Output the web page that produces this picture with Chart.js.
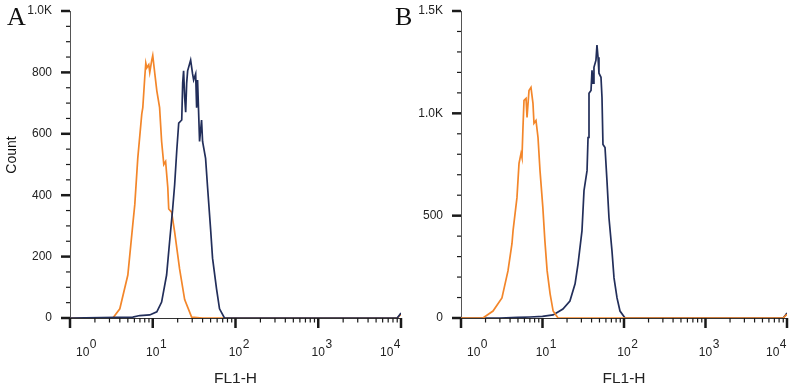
<!DOCTYPE html>
<html>
<head>
<meta charset="utf-8">
<script src="https://cdn.jsdelivr.net/npm/chart.js@4.4.1/dist/chart.umd.min.js"></script>
<style>
html, body { margin: 0; padding: 0; background: #fff; }
#wrap { position: relative; width: 800px; height: 392px; overflow: hidden; }
canvas { position: absolute; top: 0; }
#chartA { left: 0; }
#chartB { left: 390px; }
</style>
</head>
<body>
<div id="wrap">
  <canvas id="chartA" width="410" height="392"></canvas>
  <canvas id="chartB" width="410" height="392"></canvas>
</div>
<script>
// panel A
var orangeAx = [1, 3.3, 4.0, 5.0, 5.74, 6.07, 6.59, 7.37, 7.58, 8.01, 8.24, 8.47, 8.95, 9.2, 9.73, 10.0, 10.6, 11.2, 12.1, 12.8, 13.6, 14.3, 15.2, 15.6, 16.9, 18.4, 21.1, 24.3, 29.5, 40, 9000, 9600, 10000];
var orangeAy = [0, 0, 30, 140, 305, 370, 520, 665, 685, 785, 830, 815, 825, 800, 840, 855, 795, 740, 685, 575, 500, 510, 425, 355, 345, 280, 160, 60, 3, 0, 0, 8, 12];
var navyAx = [1, 5.74, 6.97, 9.2, 11.2, 12.8, 14.7, 16.0, 17.4, 18.4, 19.5, 20.6, 22.4, 23.0, 23.6, 24.3, 25.0, 25.7, 26.4, 28.7, 30.3, 31.2, 33.0, 33.9, 34.8, 36.8, 38.9, 40.0, 43.5, 46.0, 50.0, 52.8, 59.0, 64.1, 73.6, 9000, 9600, 10000];
var navyAy = [0, 3, 8, 10, 20, 52, 140, 250, 355, 435, 545, 635, 645, 765, 805, 720, 670, 765, 805, 840, 795, 775, 795, 685, 775, 575, 645, 575, 520, 425, 290, 195, 95, 30, 0, 0, 10, 16];

// panel B
var orangeBx = [1, 1.86, 2.47, 3.18, 3.77, 4.22, 4.35, 4.86, 5.15, 5.45, 5.60, 5.76, 5.93, 6.28, 6.46, 6.83, 7.22, 7.64, 7.86, 8.32, 8.81, 9.32, 10.1, 10.7, 11.4, 12.4, 13.5, 15.5, 9000, 9600, 10000];
var orangeBy = [0, 0, 34, 98, 230, 363, 426, 588, 755, 804, 784, 931, 1063, 1073, 980, 1112, 1127, 1049, 951, 965, 882, 720, 539, 377, 230, 118, 34, 0, 0, 12, 18];
var navyBx = [1, 3.0, 5.0, 7.03, 10.0, 13.5, 17.8, 21.7, 25.1, 27.3, 30.5, 32.3, 35.2, 36.2, 37.2, 39.4, 40.5, 41.7, 42.8, 45.3, 46.6, 48.0, 49.3, 52.2, 53.7, 55.2, 58.5, 61.8, 65.4, 71.2, 75.4, 82.1, 89.3, 103, 9000, 9600, 10000];
var navyBy = [0, 0, 3, 5, 8, 15, 44, 83, 167, 265, 426, 622, 720, 882, 1098, 1112, 1210, 1147, 1225, 1260, 1333, 1274, 1196, 1176, 1078, 848, 833, 671, 490, 328, 196, 98, 34, 0, 0, 15, 25];

// axes
var xDecades = [1, 10, 100, 1000, 10000];
var xExps = ['0', '1', '2', '3', '4'];
var xMinorSteps = [2, 3, 4, 5, 6, 7, 8, 9];
var yTicksA = [0, 50, 100, 150, 200, 250, 300, 350, 400, 450, 500, 550, 600, 650, 700, 750, 800, 850, 900, 950, 1000];
var yMajorA = [0, 200, 400, 600, 800, 1000];
var yLabelsA = ['0', '200', '400', '600', '800', '1.0K'];
var yTicksB = [0, 100, 200, 300, 400, 500, 600, 700, 800, 900, 1000, 1100, 1200, 1300, 1400, 1500];
var yMajorB = [0, 500, 1000, 1500];
var yLabelsB = ['0', '500', '1.0K', '1.5K'];

var orange = 'rgb(243,134,42)';
var navy = 'rgb(34,46,90)';

Chart.defaults.font.family = '"Liberation Sans", Arial, sans-serif';
Chart.defaults.color = '#222';

function pts(xs, ys) {
    return xs.map(function (x, i) { return { x: x, y: ys[i] }; });
}

var axisMarks = {
    id: 'axisMarks',
    afterDraw: function (chart, args, o) {
        var ctx = chart.ctx, x = chart.scales.x, y = chart.scales.y, a = chart.chartArea;
        ctx.save();
        ctx.strokeStyle = '#1a1a1a';
        // y ticks
        o.yTicks.forEach(function (v) {
            var py = y.getPixelForValue(v);
            var major = o.yMajor.indexOf(v) >= 0;
            ctx.lineWidth = major ? 2.5 : 1.2;
            ctx.beginPath();
            ctx.moveTo(a.left - (major ? 9 : 4), py);
            ctx.lineTo(a.left, py);
            ctx.stroke();
        });
        // x ticks
        xDecades.forEach(function (d, i) {
            var px = x.getPixelForValue(d);
            ctx.lineWidth = 2.5;
            ctx.beginPath();
            ctx.moveTo(px, a.bottom);
            ctx.lineTo(px, a.bottom + 10);
            ctx.stroke();
            if (i < xDecades.length - 1) {
                xMinorSteps.forEach(function (m) {
                    var pm = x.getPixelForValue(d * m);
                    ctx.lineWidth = 1.2;
                    ctx.beginPath();
                    ctx.moveTo(pm, a.bottom);
                    ctx.lineTo(pm, a.bottom + 4.5);
                    ctx.stroke();
                });
            }
        });
        // x labels 10^n
        ctx.fillStyle = '#222';
        ctx.font = '12px "Liberation Sans", Arial, sans-serif';
        ctx.textBaseline = 'alphabetic';
        ctx.textAlign = 'left';
        xDecades.forEach(function (d, i) {
            var px = x.getPixelForValue(d);
            var wb = ctx.measureText('10').width, we = ctx.measureText(xExps[i]).width;
            var left = px - wb / 2;
            if (i === 0) left = px + 6;
            if (i === xDecades.length - 1) left = px - wb - we - 1;
            ctx.fillText('10', left, 356);
            ctx.fillText(xExps[i], left + wb + 0.5, 348);
        });
        // panel letter
        ctx.font = '26px "Liberation Serif", "Times New Roman", serif';
        ctx.fillStyle = '#111';
        ctx.fillText(o.letter, o.letterX, 25);
        if (o.count) {
            ctx.font = '14px "Liberation Sans", Arial, sans-serif';
            ctx.translate(16, 155);
            ctx.rotate(-Math.PI / 2);
            ctx.textAlign = 'center';
            ctx.fillText('Count', 0, 0);
        }
        ctx.restore();
    }
};

function makeChart(id, sets, yTicks, yMajor, yLabels, yMax, yWidth, padRight, letter, letterX, count) {
    return new Chart(document.getElementById(id).getContext('2d'), {
        type: 'line',
        data: { datasets: sets },
        options: {
            responsive: false,
            animation: false,
            layout: { padding: { top: 11, right: padRight, left: 0, bottom: 0 } },
            plugins: {
                legend: { display: false },
                tooltip: { enabled: false },
                axisMarks: { yTicks: yTicks, yMajor: yMajor, letter: letter, letterX: letterX, count: count }
            },
            elements: { point: { radius: 0 }, line: { tension: 0, borderWidth: 1.7 } },
            scales: {
                x: {
                    type: 'logarithmic',
                    min: 1,
                    max: 10000,
                    grid: { display: false },
                    border: { display: true, color: '#333', width: 1 },
                    ticks: { display: false },
                    title: { display: true, text: 'FL1-H', font: { size: 15.5 }, color: '#222', padding: { top: 0, bottom: 4 } },
                    afterFit: function (s) { s.height = 74; s.paddingLeft = 0; s.paddingRight = 0; }
                },
                y: {
                    min: 0,
                    max: yMax,
                    grid: { display: false, drawTicks: false },
                    border: { display: true, color: '#555', width: 1 },
                    afterBuildTicks: function (s) {
                        s.ticks = yTicks.map(function (v) { return { value: v }; });
                    },
                    ticks: {
                        autoSkip: false,
                        padding: 18,
                        font: { size: 12 },
                        color: '#222',
                        callback: function (v) {
                            var k = yMajor.indexOf(v);
                            return k >= 0 ? yLabels[k] : '';
                        }
                    },
                    afterFit: function (s) { s.width = yWidth; s.paddingTop = 0; s.paddingBottom = 0; }
                }
            }
        },
        plugins: [axisMarks]
    });
}

makeChart('chartA', [
    { label: 'stained', data: pts(navyAx, navyAy), borderColor: navy },
    { label: 'control', data: pts(orangeAx, orangeAy), borderColor: orange }
], yTicksA, yMajorA, yLabelsA, 1000, 70, 9, 'A', 7, true);

makeChart('chartB', [
    { label: 'control', data: pts(orangeBx, orangeBy), borderColor: orange },
    { label: 'stained', data: pts(navyBx, navyBy), borderColor: navy }
], yTicksB, yMajorB, yLabelsB, 1500, 71, 13, 'B', 5, false);
</script>
</body>
</html>
